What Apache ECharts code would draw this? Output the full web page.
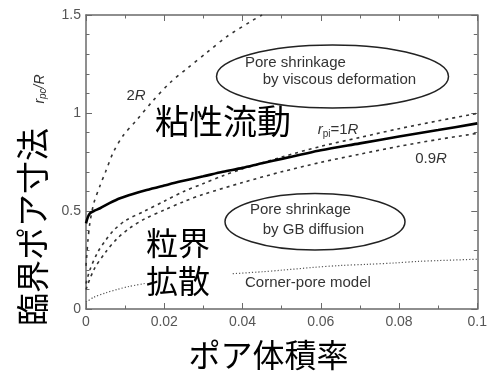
<!DOCTYPE html>
<html><head><meta charset="utf-8">
<script src="https://cdn.jsdelivr.net/npm/echarts@6/dist/echarts.min.js"></script>
<style>html,body{margin:0;padding:0;background:#fff}#c{width:490px;height:374px}</style>
</head><body><div id="c"></div>
<script>
// x: pore volume fraction, y: critical pore size r_pc/R
const solidLine = [[0,0.437],[0.0005,0.47],[0.001,0.488],[0.002,0.50],[0.0036,0.514],[0.006,0.54],[0.0087,0.565],[0.012,0.587],[0.0155,0.607],[0.02,0.63],[0.024,0.65],[0.03,0.677],[0.035,0.70],[0.04,0.72],[0.045,0.744],[0.05,0.766],[0.055,0.788],[0.06,0.81],[0.07,0.845],[0.08,0.88],[0.09,0.913],[0.1,0.947]];
const r1Line = [[0,0.13],[0.001,0.2],[0.003,0.29],[0.005,0.35],[0.007,0.40],[0.01,0.45],[0.015,0.50],[0.02,0.55],[0.025,0.60],[0.03,0.64],[0.035,0.68],[0.04,0.715],[0.05,0.775],[0.06,0.83],[0.07,0.875],[0.08,0.92],[0.09,0.96],[0.1,0.998]];
const r09Line = [[0,0.1],[0.002,0.2],[0.005,0.29],[0.008,0.36],[0.011,0.41],[0.015,0.46],[0.02,0.505],[0.025,0.548],[0.03,0.585],[0.04,0.645],[0.05,0.70],[0.06,0.748],[0.07,0.79],[0.08,0.83],[0.09,0.865],[0.1,0.896]];
const r2Line = [[0,0.22],[0.0005,0.35],[0.001,0.44],[0.002,0.54],[0.0036,0.63],[0.005,0.70],[0.007,0.80],[0.0095,0.885],[0.013,0.965],[0.017,1.06],[0.0215,1.155],[0.026,1.23],[0.031,1.31],[0.036,1.39],[0.0427,1.474],[0.045,1.5]];
const cornerLine = [[0,0.035],[0.002,0.06],[0.005,0.082],[0.008,0.10],[0.011,0.115],[0.015,0.13],[0.025,'-'],[0.0375,0.18],[0.045,0.19],[0.05,0.198],[0.058,0.212],[0.065,0.222],[0.072,0.228],[0.079,0.235],[0.085,0.243],[0.09,0.247],[0.1,0.254]];
const xRange = [0, 0.1], xStep = 0.02;
const yRange = [0, 1.5], yStep = 0.5;

const chart = echarts.init(document.getElementById('c'), null, {renderer:'canvas'});
const axisCol = '#6a6a6a';
const numFont = 'Liberation Sans';
const jp = '"Noto Sans CJK JP"';
function axisBase(extra){
  return Object.assign({
    axisLine:{show:true,onZero:false,lineStyle:{color:axisCol,width:1.5}},
    axisTick:{show:true,inside:true,length:6,lineStyle:{color:axisCol,width:1}},
    minorTick:{show:true,length:3.5,lineStyle:{color:axisCol,width:1}},
    splitLine:{show:false}, minorSplitLine:{show:false}
  }, extra);
}
const option = {
  animation:false,
  backgroundColor:'#fff',
  grid:{left:86,top:15,right:12,bottom:65},
  xAxis:[
    axisBase({type:'value',min:xRange[0],max:xRange[1],interval:xStep,position:'bottom',
      minorTick:{show:true,splitNumber:2,length:3.5,lineStyle:{color:axisCol}},
      axisLabel:{color:'#555',fontFamily:numFont,fontSize:14,margin:6}}),
    axisBase({type:'value',min:xRange[0],max:xRange[1],interval:xStep,position:'top',
      minorTick:{show:true,splitNumber:2,length:3.5,lineStyle:{color:axisCol}},
      axisLabel:{show:false}})
  ],
  yAxis:[
    axisBase({type:'value',min:yRange[0],max:yRange[1],interval:yStep,position:'left',
      minorTick:{show:true,splitNumber:5,length:3.5,lineStyle:{color:axisCol}},
      axisLabel:{color:'#555',fontFamily:numFont,fontSize:14,margin:5}}),
    axisBase({type:'value',min:yRange[0],max:yRange[1],interval:yStep,position:'right',
      minorTick:{show:true,splitNumber:5,length:3.5,lineStyle:{color:axisCol}},
      axisLabel:{show:false}})
  ],
  series:[
    {type:'line',data:r2Line,showSymbol:false,smooth:0.3,lineStyle:{color:'#333',width:1.6,type:[3,5]}},
    {type:'line',data:r1Line,showSymbol:false,smooth:0.3,lineStyle:{color:'#333',width:1.6,type:[3,4]}},
    {type:'line',data:r09Line,showSymbol:false,smooth:0.3,lineStyle:{color:'#333',width:1.6,type:[3,4]}},
    {type:'line',data:cornerLine,showSymbol:false,smooth:0.3,connectNulls:false,lineStyle:{color:'#555',width:1.2,type:[1.2,2]}},
    {type:'line',data:solidLine,showSymbol:false,smooth:0.3,lineStyle:{color:'#000',width:2.6}}
  ],
  graphic:[
    // ellipses
    {type:'ellipse',shape:{cx:332.5,cy:76.5,rx:116,ry:31.5},style:{fill:'none',stroke:'#222',lineWidth:1.5},z:10},
    {type:'ellipse',shape:{cx:315,cy:221.7,rx:90,ry:28.3},style:{fill:'none',stroke:'#222',lineWidth:1.5},z:10},
    {type:'text',x:245,y:63,style:{text:'Pore shrinkage',font:'15px Liberation Sans',fill:'#333',verticalAlign:'middle'},z:10},
    {type:'text',x:262.7,y:80,style:{text:'by viscous deformation',font:'15px Liberation Sans',fill:'#333',verticalAlign:'middle'},z:10},
    {type:'text',x:250,y:210,style:{text:'Pore shrinkage',font:'15px Liberation Sans',fill:'#333',verticalAlign:'middle'},z:10},
    {type:'text',x:262.7,y:230,style:{text:'by GB diffusion',font:'15px Liberation Sans',fill:'#333',verticalAlign:'middle'},z:10},
    {type:'text',x:245,y:283,style:{text:'Corner-pore model',font:'15px Liberation Sans',fill:'#333',verticalAlign:'middle'},z:10},
    // line labels
    {type:'text',x:136,y:96,style:{text:'{n|2}{i|R}',align:'center',verticalAlign:'middle',rich:{n:{font:'15px Liberation Sans',fill:'#333'},i:{font:'italic 15px Liberation Sans',fill:'#333'}}},z:10},
    {type:'text',x:338,y:130,style:{text:'{i|r}{s|pi}{n|=1}{i|R}',align:'center',verticalAlign:'middle',rich:{n:{font:'15px Liberation Sans',fill:'#333'},i:{font:'italic 15px Liberation Sans',fill:'#333'},s:{font:'10px Liberation Sans',fill:'#333',padding:[8,0,0,0]}}},z:10},
    {type:'text',x:431,y:159,style:{text:'{n|0.9}{i|R}',align:'center',verticalAlign:'middle',rich:{n:{font:'15px Liberation Sans',fill:'#333'},i:{font:'italic 15px Liberation Sans',fill:'#333'}}},z:10},
    // Japanese region labels
    {type:'text',x:223,y:121.5,style:{text:'粘性流動',font:'34px '+jp,fill:'#000',align:'center',verticalAlign:'middle'},z:10},
    {type:'text',x:178,y:243,style:{text:'粒界',font:'32px '+jp,fill:'#000',align:'center',verticalAlign:'middle'},z:10},
    {type:'text',x:178,y:281,style:{text:'拡散',font:'32px '+jp,fill:'#000',align:'center',verticalAlign:'middle'},z:10},
    // axis names
    {type:'text',x:268.5,y:354.7,style:{text:'ポア体積率',font:'32px '+jp,fill:'#000',align:'center',verticalAlign:'middle'},z:10},
    {type:'text',x:32,y:227,rotation:Math.PI/2,style:{text:'臨界ポア寸法',font:'33px '+jp,fill:'#000',align:'center',verticalAlign:'middle'},z:10},
    {type:'text',x:40,y:89,rotation:Math.PI/2,style:{text:'{i|r}{s|pc}{i|/R}',align:'center',verticalAlign:'middle',rich:{i:{font:'italic 14px Liberation Sans',fill:'#333'},s:{font:'italic 10px Liberation Sans',fill:'#333',padding:[7,0,0,0]}}},z:10}
  ]
};
chart.setOption(option);
</script></body></html>
